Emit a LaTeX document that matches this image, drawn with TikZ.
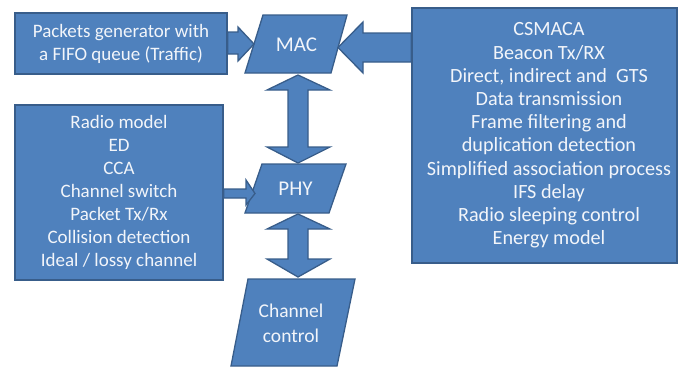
\documentclass[tikz,border=0pt]{standalone}
\usepackage{fontspec}
\setmainfont{Carlito}
\usetikzlibrary{calc}
\definecolor{boxfill}{HTML}{4F81BD}
\definecolor{boxline}{HTML}{385D8A}
\definecolor{txt}{HTML}{F2F5FA}
\begin{document}
\begin{tikzpicture}[x=1pt,y=-1pt,
  blk/.style={fill=boxfill,draw=boxline,line width=1.3pt,line join=miter},
  lbl/.style={text=txt,font=\fontsize{19}{23}\selectfont,align=center,inner sep=0pt},
  big/.style={font=\fontsize{21}{23}\selectfont},
  wide/.style={font=\fontsize{20.2}{23.2}\selectfont}]
\useasboundingbox (0,0) rectangle (683,367);
% rectangular boxes
\node[blk,lbl,minimum width=212pt,minimum height=61pt] (gen) at (121,43.5)
  {Packets generator with\\a FIFO queue (Traffic)};
\node[blk,lbl,minimum width=208pt,minimum height=175pt] (phyf) at (119,192.5)
  {Radio model\\ED\\CCA\\Channel switch\\Packet Tx/Rx\\Collision detection\\Ideal / lossy channel};
\node[blk,minimum width=265pt,minimum height=255pt,inner sep=0pt] (macf) at (544.5,135.5) {};
\node[lbl,wide] (macft) at ($(macf.center)+(4.5,0)$)
  {CSMACA\\Beacon Tx/RX\\Direct, indirect and\ \ GTS\\Data transmission\\Frame filtering and\\duplication detection\\Simplified association process\\IFS delay\\Radio sleeping control\\Energy model};
% parallelograms
\draw[blk] (263,15) -- (347,15) -- (331,73) -- (245,73) -- cycle;
\node[lbl,big] (mac) at (296.5,45) {MAC};
\draw[blk] (262,164) -- (346,164) -- (329,213) -- (245,213) -- cycle;
\node[lbl,big] (phy) at (295.5,188.5) {PHY};
\draw[blk] (248,279) -- (355,279) -- (337,366) -- (231,366) -- cycle;
\node[lbl,font=\fontsize{19.5}{25}\selectfont] (chan) at (291,323) {Channel\\control};
% block arrows
\draw[blk] (gen.east |- 0,32) -- (238,32) -- (238,27) -- (254,44) -- (238,61) -- (238,54) -- (gen.east |- 0,54) -- cycle;
\draw[blk] (macf.west |- 0,33) -- (363,33) -- (363,22) -- (338,47.5) -- (363,73) -- (363,62) -- (macf.west |- 0,62) -- cycle;
\draw[blk] (phyf.east |- 0,189) -- (246,189) -- (246,180) -- (255,193.5) -- (246,205) -- (246,198) -- (phyf.east |- 0,198) -- cycle;
\draw[blk] (298,75) -- (330,90) -- (308,90) -- (308,147) -- (330,147) -- (298,163) -- (267,147) -- (288,147) -- (288,90) -- (267,90) -- cycle;
\draw[blk] (298,214) -- (330,229) -- (308,229) -- (308,259) -- (330,259) -- (298,277) -- (267,259) -- (288,259) -- (288,229) -- (267,229) -- cycle;
\end{tikzpicture}
\end{document}
